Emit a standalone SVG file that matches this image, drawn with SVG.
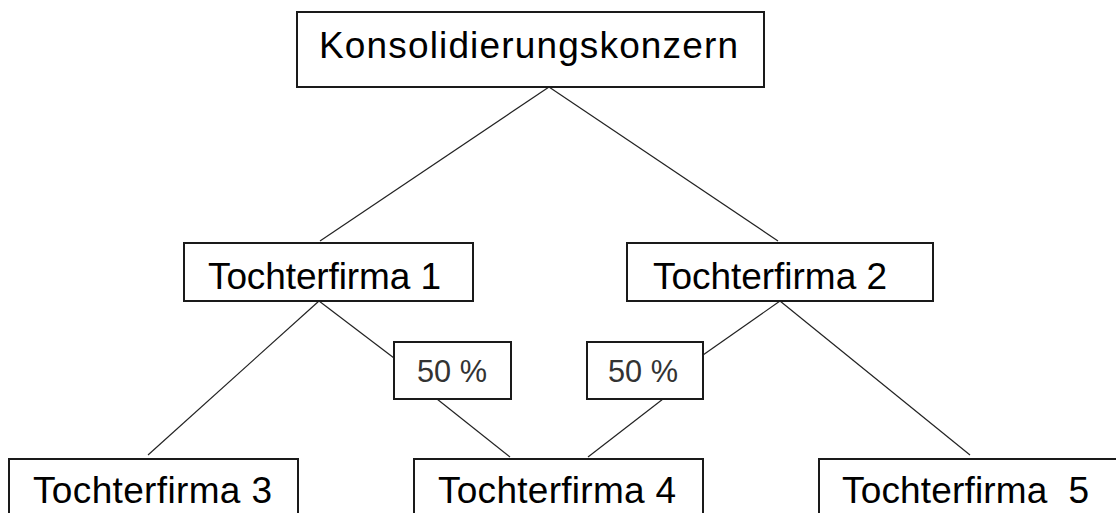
<svg xmlns="http://www.w3.org/2000/svg" width="1116" height="513" viewBox="0 0 1116 513">
<style>
.box{fill:#fff;stroke:#1a1a1a;stroke-width:2}
.t{font-family:"Liberation Sans",Arial,sans-serif;fill:#000;font-size:37px}
.p{font-family:"Liberation Sans",Arial,sans-serif;fill:#333;font-size:31.5px}
.c{stroke:#222;stroke-width:1.2;fill:none}
</style>
<rect width="1116" height="513" fill="#fff"/>
<g id="connectors">
<line class="c" x1="549" y1="87" x2="320" y2="241"/>
<line class="c" x1="549" y1="87" x2="778" y2="241"/>
<line class="c" x1="319" y1="301" x2="148" y2="455"/>
<line class="c" x1="319" y1="301" x2="394" y2="358"/>
<line class="c" x1="437" y1="399" x2="510" y2="457"/>
<line class="c" x1="780" y1="301" x2="703" y2="355"/>
<line class="c" x1="663" y1="399" x2="588" y2="457"/>
<line class="c" x1="780" y1="301" x2="970" y2="455"/>
</g>
<g id="konzern">
<rect class="box" x="297" y="12" width="467" height="75"/>
<text class="t" x="319" y="58" textLength="419" lengthAdjust="spacing">Konsolidierungskonzern</text>
</g>
<g id="tf1">
<rect class="box" x="184" y="243" width="289" height="58"/>
<text class="t" x="208" y="289" textLength="233" lengthAdjust="spacing">Tochterfirma 1</text>
</g>
<g id="tf2">
<rect class="box" x="627" y="243" width="306" height="58"/>
<text class="t" x="653" y="289" textLength="234" lengthAdjust="spacing">Tochterfirma 2</text>
</g>
<g id="p1">
<rect class="box" x="394" y="342" width="117" height="57"/>
<text class="p" x="417" y="382" textLength="70" lengthAdjust="spacingAndGlyphs">50 %</text>
</g>
<g id="p2">
<rect class="box" x="587" y="342" width="116" height="57"/>
<text class="p" x="608" y="382" textLength="70" lengthAdjust="spacingAndGlyphs">50 %</text>
</g>
<g id="tf3">
<rect class="box" x="9" y="459" width="289" height="70"/>
<text class="t" x="33" y="503" textLength="239" lengthAdjust="spacing">Tochterfirma 3</text>
</g>
<g id="tf4">
<rect class="box" x="414" y="459" width="289" height="70"/>
<text class="t" x="438" y="503" textLength="238" lengthAdjust="spacing">Tochterfirma 4</text>
</g>
<g id="tf5">
<rect class="box" x="819" y="459" width="310" height="70"/>
<text class="t" x="842" y="503" xml:space="preserve" textLength="247" lengthAdjust="spacing">Tochterfirma  5</text>
</g>
</svg>
